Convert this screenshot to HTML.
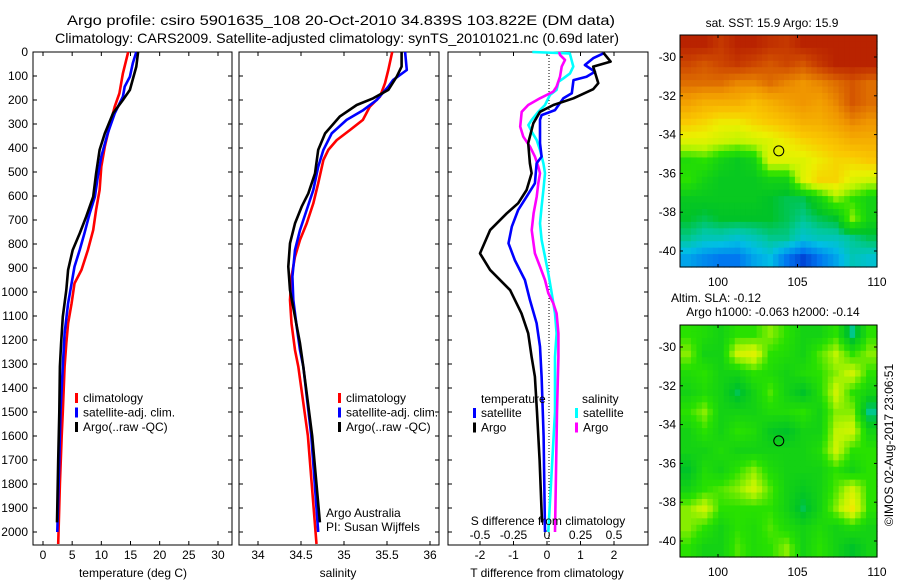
<!DOCTYPE html>
<html><head><meta charset="utf-8"><style>
body{margin:0;background:#fff;}
svg{display:block;font-family:"Liberation Sans",sans-serif;}
</style></head><body>
<svg id="c" width="900" height="580" xmlns="http://www.w3.org/2000/svg">
<rect width="900" height="580" fill="#fff"/>
<text x="67" y="25" font-size="14" textLength="548" lengthAdjust="spacingAndGlyphs">Argo profile: csiro 5901635_108 20-Oct-2010 34.839S 103.822E (DM data)</text>
<text x="55" y="43" font-size="14" textLength="564" lengthAdjust="spacingAndGlyphs">Climatology: CARS2009. Satellite-adjusted climatology: synTS_20101021.nc (0.69d later)</text>
<g id="g"></g>
</svg>
<script>
// ---- data ----
const depthTicks=[0,100,200,300,400,500,600,700,800,900,1000,1100,1200,1300,1400,1500,1600,1700,1800,1900,2000];
const tTicks=[0,5,10,15,20,25,30];
const sTicks=[34,34.5,35,35.5,36];
const dTTicks=[-2,-1,0,1,2];
const dSTicks=[-0.5,-0.25,0,0.25,0.5];
const dSTickLabels=["-0.5","-0.25","0","0.25","0.5"];
const latTicks=[-30,-32,-34,-36,-38,-40];
const lonTicks=[100,105,110];

const tClimDepth=[0,89,172,228,311,394,478,575,658,742,825,908,964,1047,1131,1214,1311,1500,1600,1800,2050];
const tClim=[14.6,13.7,13.1,12.3,11.4,10.6,10.0,9.7,9.1,8.6,7.7,6.6,5.4,4.9,4.3,4.0,3.7,3.4,3.2,2.9,2.6];
const tSatDepth=[0,47,103,144,186,256,339,436,519,603,672,756,825,894,964,1047,1172,1311,1500,1700,2000];
const tSat=[16.0,15.4,14.9,14.0,13.7,12.3,11.1,10.0,9.4,8.9,8.0,7.1,6.3,5.4,4.9,4.3,3.7,3.4,3.0,2.8,2.45];
const tArgoDepth=[0,61,158,200,256,339,408,506,603,686,756,825,908,992,1103,1214,1311,1500,1700,1960];
const tArgo=[16.3,16.0,14.9,13.7,12.0,10.6,9.7,9.1,8.6,7.4,6.3,5.1,4.3,4.0,3.4,3.1,2.9,2.8,2.6,2.4];

const sClimDepth=[0,75,130,186,228,283,325,367,408,450,547,631,714,783,853,936,1033,1131,1242,1311,1600,2050];
const sClim=[35.56,35.515,35.477,35.419,35.30,35.22,35.07,34.915,34.818,34.76,34.70,34.643,34.566,34.488,34.43,34.39,34.372,34.39,34.43,34.469,34.58,34.68];
const sSatDepth=[0,75,117,144,200,242,283,339,408,478,575,658,742,825,936,1033,1144,1242,1311,1600,2000];
const sSat=[35.71,35.73,35.57,35.515,35.38,35.224,35.03,34.857,34.76,34.70,34.643,34.566,34.488,34.43,34.40,34.41,34.45,34.488,34.527,34.62,34.70];
const sArgoDepth=[0,61,103,158,193,221,269,339,408,506,589,644,714,797,894,992,1103,1214,1311,1600,1960];
const sArgo=[35.67,35.67,35.613,35.515,35.34,35.148,34.95,34.78,34.70,34.663,34.585,34.508,34.43,34.372,34.352,34.372,34.43,34.488,34.527,34.63,34.72];

const dTArgoDepth=[3,40,61,130,155,193,221,249,297,380,464,505,575,630,672,742,839,908,992,1089,1172,1270,1353,1500,1700,1960];
const dTArgo=[1.68,1.90,1.38,1.53,1.38,0.79,0.19,-0.21,-0.41,-0.56,-0.51,-0.46,-0.61,-0.86,-1.20,-1.70,-2.0,-1.70,-1.10,-0.76,-0.56,-0.46,-0.36,-0.30,-0.22,-0.15];
const dTSatDepth=[6,26,54,82,103,117,172,193,242,263,283,380,436,464,547,603,658,728,797,867,950,1033,1130,1228,1353,1600,2000];
const dTSat=[1.68,1.38,1.13,1.43,1.18,0.79,0.74,0.49,0.24,-0.16,-0.21,-0.21,-0.16,-0.31,-0.36,-0.61,-0.86,-1.05,-1.15,-0.96,-0.66,-0.51,-0.31,-0.21,-0.16,-0.10,-0.06];
const dSSatDepth=[0,6,61,89,110,124,158,179,221,249,283,304,332,367,408,464,505,575,644,714,783,853,922,1005,1089,1172,1270,1500,2000];
const dSSat=[-0.11,0.17,0.196,0.172,0.122,0.085,0.072,0.022,-0.015,-0.065,-0.114,-0.139,-0.114,-0.077,-0.052,-0.027,-0.015,-0.027,-0.040,-0.052,-0.04,-0.015,0.01,0.035,0.06,0.072,0.06,0.06,0.01];
const dSArgoDepth=[0,12,33,61,103,144,165,193,221,249,311,353,394,436,478,505,547,603,672,742,839,894,950,1005,1047,1089,1172,1270,1500,2000];
const dSArgo=[0.09,0.097,0.134,0.11,0.097,0.072,0.047,-0.052,-0.14,-0.189,-0.20,-0.177,-0.127,-0.09,-0.065,-0.052,-0.065,-0.077,-0.10,-0.114,-0.09,-0.052,-0.015,0.01,0.047,0.072,0.085,0.085,0.075,0.06];

const sstGrid=[
[0.95,0.95,0.92,0.95,0.95,0.93,0.92,0.95,0.95,0.95,0.95,0.95],
[0.9,0.88,0.9,0.92,0.9,0.88,0.9,0.88,0.92,0.95,0.95,0.95],
[0.85,0.85,0.85,0.82,0.82,0.85,0.82,0.8,0.82,0.85,0.88,0.85],
[0.78,0.75,0.75,0.75,0.72,0.75,0.78,0.8,0.78,0.82,0.88,0.85],
[0.7,0.68,0.65,0.65,0.68,0.7,0.72,0.75,0.75,0.78,0.82,0.8],
[0.62,0.62,0.6,0.58,0.6,0.62,0.65,0.68,0.7,0.72,0.75,0.75],
[0.48,0.5,0.45,0.42,0.45,0.62,0.62,0.62,0.65,0.68,0.68,0.7],
[0.5,0.45,0.42,0.42,0.42,0.45,0.45,0.62,0.68,0.68,0.62,0.6],
[0.42,0.42,0.42,0.42,0.42,0.4,0.38,0.38,0.45,0.55,0.5,0.45],
[0.4,0.38,0.4,0.4,0.4,0.4,0.38,0.35,0.38,0.4,0.55,0.45],
[0.35,0.32,0.32,0.3,0.32,0.35,0.35,0.3,0.32,0.32,0.35,0.38],
[0.25,0.22,0.2,0.2,0.25,0.28,0.2,0.15,0.2,0.25,0.32,0.3]];
const slaGrid=[
[0.5,0.48,0.45,0.5,0.5,0.55,0.5,0.45,0.45,0.5,0.35,0.5],
[0.55,0.45,0.45,0.6,0.62,0.5,0.48,0.45,0.52,0.58,0.5,0.55],
[0.48,0.5,0.45,0.45,0.5,0.48,0.45,0.48,0.5,0.55,0.6,0.5],
[0.45,0.48,0.45,0.38,0.45,0.52,0.45,0.4,0.48,0.6,0.5,0.45],
[0.5,0.55,0.45,0.45,0.45,0.48,0.48,0.5,0.45,0.55,0.55,0.35],
[0.45,0.5,0.45,0.5,0.48,0.42,0.4,0.45,0.45,0.58,0.6,0.45],
[0.45,0.45,0.48,0.45,0.45,0.45,0.45,0.45,0.48,0.6,0.5,0.5],
[0.4,0.48,0.45,0.5,0.55,0.48,0.45,0.45,0.45,0.5,0.45,0.5],
[0.45,0.5,0.52,0.55,0.6,0.52,0.45,0.42,0.45,0.52,0.6,0.5],
[0.55,0.6,0.5,0.5,0.5,0.5,0.45,0.38,0.45,0.55,0.65,0.5],
[0.55,0.5,0.45,0.5,0.48,0.52,0.48,0.45,0.48,0.45,0.48,0.45],
[0.5,0.45,0.45,0.52,0.48,0.5,0.55,0.45,0.5,0.45,0.4,0.45]];
const argoLon=103.822, argoLat=-34.839;

// ---- drawing ----
const NS="http://www.w3.org/2000/svg";
const G=document.getElementById('g');
function el(tag,attrs,parent,txt){const e=document.createElementNS(NS,tag);for(const k in attrs)e.setAttribute(k,attrs[k]);if(txt!==undefined)e.textContent=txt;(parent||G).appendChild(e);return e;}
const yD=d=>52+d*0.24;
const pTop=52,pBot=545;
function panel(name,x0,x1){
  const b=el('rect',{x:x0,y:pTop,width:x1-x0,height:pBot-pTop,fill:'none',stroke:'#000','stroke-width':1});
  
  
  depthTicks.forEach(d=>{el('line',{x1:x0,x2:x0+4,y1:yD(d),y2:yD(d),stroke:'#000'});el('line',{x1:x1-4,x2:x1,y1:yD(d),y2:yD(d),stroke:'#000'});});
}
function line(name,xs,ds,xf,color){
  const p=el('polyline',{points:xs.map((v,i)=>xf(v).toFixed(1)+','+yD(ds[i]).toFixed(1)).join(' '),fill:'none',stroke:color,'stroke-width':2.6,'stroke-linejoin':'round'});
  
  
}
function xticks(vals,labels,xf,yLab){
  vals.forEach((v,i)=>{const x=xf(v);el('line',{x1:x,x2:x,y1:pTop,y2:pTop+4,stroke:'#000'});el('line',{x1:x,x2:x,y1:pBot-4,y2:pBot,stroke:'#000'});
   const tx=el('text',{x:x,y:yLab,'font-size':12,'text-anchor':'middle'},G,labels?labels[i]:String(v));
   
   });
}
function legend(x,y,items){items.forEach((it,i)=>{el('rect',{x:x,y:y+i*14.5-9,width:3,height:10,fill:it[1]});const tx=el('text',{x:x+8,y:y+i*14.5,'font-size':12},G,it[0]);});}

// panel 1 temperature
const xT=v=>43+v*5.833;
panel('temperature-panel',33,232);
depthTicks.forEach(d=>{const tx=el('text',{x:28,y:yD(d)+4,'font-size':12,'text-anchor':'end'},G,String(d));});
xticks(tTicks,null,xT,559);
line('temp-climatology',tClim,tClimDepth,xT,'#f00');
line('temp-satellite',tSat,tSatDepth,xT,'#00f');
line('temp-argo',tArgo,tArgoDepth,xT,'#000');
legend(75,402,[['climatology','#f00'],['satellite-adj. clim.','#00f'],['Argo(..raw -QC)','#000']]);
let tt=el('text',{x:133,y:577,'font-size':12,'text-anchor':'middle'},G,'temperature (deg C)');

// panel 2 salinity
const xS=v=>258+(v-34)*86;
panel('salinity-panel',239,439);
xticks(sTicks,null,xS,559);
line('sal-climatology',sClim,sClimDepth,xS,'#f00');
line('sal-satellite',sSat,sSatDepth,xS,'#00f');
line('sal-argo',sArgo,sArgoDepth,xS,'#000');
legend(338,402,[['climatology','#f00'],['satellite-adj. clim.','#00f'],['Argo(..raw -QC)','#000']]);
tt=el('text',{x:338,y:577,'font-size':12,'text-anchor':'middle'},G,'salinity');
tt=el('text',{x:326,y:517,'font-size':12},G,'Argo Australia');
tt=el('text',{x:326,y:531,'font-size':12},G,'PI: Susan Wijffels');

// panel 3 differences
const xDT=v=>547+v*33.5;
const xDS=v=>547+v*134;
panel('difference-panel',448,648);
el('line',{x1:549,x2:549,y1:pTop,y2:pBot,stroke:'#000','stroke-dasharray':'1,2'});
xticks(dTTicks,null,xDT,559);
dSTicks.forEach((v,i)=>{const tx=el('text',{x:xDS(v),y:539,'font-size':12,'text-anchor':'middle'},G,dSTickLabels[i]);});
line('dS-satellite',dSSat,dSSatDepth,xDS,'#0ff');
line('dS-argo',dSArgo,dSArgoDepth,xDS,'#f0f');
line('dT-satellite',dTSat,dTSatDepth,xDT,'#00f');
line('dT-argo',dTArgo,dTArgoDepth,xDT,'#000');
tt=el('text',{x:481,y:403,'font-size':12},G,'temperature');
tt=el('text',{x:582,y:403,'font-size':12},G,'salinity');
legend(473,417,[['satellite','#00f'],['Argo','#000']]);
legend(575,417,[['satellite','#0ff'],['Argo','#f0f']]);
tt=el('text',{x:548,y:525,'font-size':12,'text-anchor':'middle'},G,'S difference from climatology');
tt=el('text',{x:547,y:577,'font-size':12,'text-anchor':'middle'},G,'T difference from climatology');

// maps
const cmapStops=[[0,[0,0,140]],[0.12,[0,40,200]],[0.2,[0,120,240]],[0.28,[0,190,230]],[0.34,[0,200,160]],[0.4,[0,195,40]],[0.5,[40,225,0]],[0.58,[190,245,0]],[0.64,[235,240,0]],[0.7,[250,200,0]],[0.8,[240,150,0]],[0.9,[205,70,0]],[1,[165,0,0]]];
function cmap(v){for(let i=1;i<cmapStops.length;i++){if(v<=cmapStops[i][0]){const a=cmapStops[i-1],b=cmapStops[i],f=(v-a[0])/(b[0]-a[0]);return 'rgb('+a[1].map((c,k)=>Math.round(c+(b[1][k]-c)*f)).join(',')+')';}}return 'rgb(165,0,0)';}
function sample(grid,fr,fc){const R=grid.length,C=grid[0].length;fr=Math.max(0,Math.min(R-1,fr));fc=Math.max(0,Math.min(C-1,fc));const r0=Math.floor(fr),c0=Math.floor(fc),r1=Math.min(R-1,r0+1),c1=Math.min(C-1,c0+1),a=fr-r0,b=fc-c0;
  return grid[r0][c0]*(1-a)*(1-b)+grid[r0][c1]*(1-a)*b+grid[r1][c0]*a*(1-b)+grid[r1][c1]*a*b;}
function map(name,grid,y0,y1,latY,title){
  const x0=680,x1=877,up=3;
  const rows=grid.length*up,cols=grid[0].length*up,cw=(x1-x0)/cols,ch=(y1-y0)/rows;
  for(let r=0;r<rows;r++)for(let c=0;c<cols;c++){
    const v=sample(grid,(r+0.5)/up-0.5,(c+0.5)/up-0.5);
    const cell=el('rect',{x:(x0+c*cw).toFixed(2),y:(y0+r*ch).toFixed(2),width:(cw+0.6).toFixed(2),height:(ch+0.6).toFixed(2),fill:cmap(v)});
    
    }
  el('rect',{x:x0,y:y0,width:x1-x0,height:y1-y0,fill:'none',stroke:'#000'});
  const lonX=l=>718+(l-100)*15.9;
  const latYf=la=>latY+(-30-la)*19.4;
  latTicks.forEach(la=>{const y=latYf(la);el('line',{x1:x0,x2:x0+3,y1:y,y2:y,stroke:'#000'});el('line',{x1:x1-3,x2:x1,y1:y,y2:y,stroke:'#000'});
    const tx=el('text',{x:676,y:y+4,'font-size':12,'text-anchor':'end'},G,String(la));});
  lonTicks.forEach(l=>{const x=lonX(l);el('line',{x1:x,x2:x,y1:y0,y2:y0+3,stroke:'#000'});el('line',{x1:x,x2:x,y1:y1-3,y2:y1,stroke:'#000'});
    const tx=el('text',{x:x,y:y1+19,'font-size':12,'text-anchor':'middle'},G,String(l));});
  const m=el('circle',{cx:lonX(argoLon),cy:latYf(argoLat),r:5,fill:'none',stroke:'#000'});
  
  
  title.forEach(s=>{const tx=el('text',{x:s[1],y:s[2],'font-size':12,'text-anchor':'middle'},G,s[0]);});
}
map('sst-map',sstGrid,35,267,57,[['sat. SST: 15.9 Argo: 15.9',772,27]]);
map('sla-map',slaGrid,325,557,347,[['Altim. SLA: -0.12',716,302],['Argo h1000: -0.063 h2000: -0.14',773,316]]);
el('line',{x1:648,x2:648,y1:52,y2:545,stroke:'#000'});
tt=el('text',{x:0,y:0,'font-size':12,'text-anchor':'middle',transform:'translate(893,445) rotate(-90)'},G,'©IMOS 02-Aug-2017 23:06:51');
</script>
</body></html>
